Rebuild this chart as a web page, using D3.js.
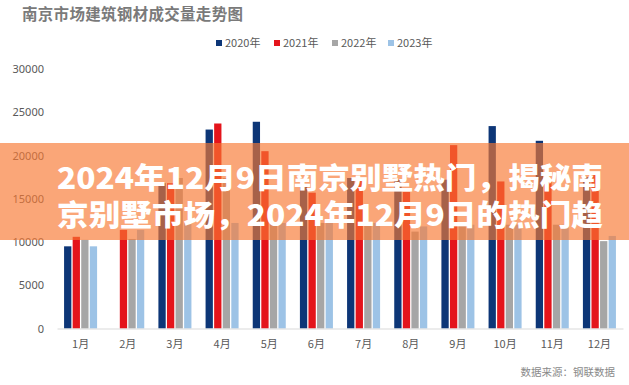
<!DOCTYPE html>
<html>
<head>
<meta charset="utf-8">
<script src="https://cdn.jsdelivr.net/npm/d3@7"></script>
<style>
  body { margin: 0; background: #fff; }
  svg { display: block; font-family: "Noto Sans CJK SC", "Noto Sans", sans-serif; }
</style>
</head>
<body>
<div id="chart"></div>
<script>
var months = ["1月","2月","3月","4月","5月","6月","7月","8月","9月","10月","11月","12月"];
var seriesNames = ["2020年","2021年","2022年","2023年"];
var seriesColors = ["#0D3677","#E4141B","#A6A6A6","#9DC3E6"];
var v2020 = [9500, 0, 16800, 23000, 23900, 16600, 17400, 17200, 17200, 23400, 21700, 17500];
var v2021 = [10600, 11400, 16800, 23700, 20500, 15700, 17200, 15800, 21200, 17000, 17000, 18000];
var v2022 = [10250, 10350, 17400, 17400, 12200, 12200, 12200, 11200, 12000, 12000, 12000, 10100];
var v2023 = [9500, 11400, 12200, 12200, 12200, 12200, 12200, 11800, 12000, 12000, 12000, 10700];
var yTicks = [0, 5000, 10000, 15000, 20000, 25000, 30000];
var titleText = "南京市场建筑钢材成交量走势图";
var sourceText = "数据来源：钢联数据";
var bannerLines = ["2024年12月9日南京别墅热门，揭秘南", "京别墅市场，2024年12月9日的热门趋"];

var allValues = [v2020, v2021, v2022, v2023];
var width = 629, height = 385;

var svg = d3.select("#chart").append("svg")
    .attr("width", width).attr("height", height);

// title
svg.append("text")
    .attr("x", 22).attr("y", 20)
    .attr("fill", "#7a7a7a")
    .attr("font-size", 15.5)
    .attr("font-weight", "bold")
    .attr("textLength", 221)
    .text(titleText);

// legend
var legendX = [216, 274, 332, 388];
var legend = svg.append("g").selectAll("g")
    .data(seriesNames)
    .enter().append("g")
    .attr("transform", function(d, i) { return "translate(" + legendX[i] + ",43)"; });
legend.append("rect")
    .attr("x", 0).attr("y", -3).attr("width", 6).attr("height", 6)
    .attr("fill", function(d, i) { return seriesColors[i]; });
legend.append("text")
    .attr("x", 9).attr("y", 4)
    .attr("font-size", 11)
    .attr("fill", "#595959")
    .text(function(d) { return d; });

var x0 = d3.scaleBand().domain(months).range([57, 623]).paddingInner(0.3).paddingOuter(0.15);
var x1 = d3.scaleBand().domain(seriesNames).range([0, x0.bandwidth()]).paddingInner(0.15);
var y = d3.scaleLinear().domain([0, 30000]).range([328.5, 69]);

// y axis
var yAxis = svg.append("g")
    .attr("transform", "translate(44,0)")
    .call(d3.axisLeft(y).tickValues(yTicks).tickSize(0).tickPadding(0).tickFormat(d3.format("d")));
yAxis.select(".domain").remove();
yAxis.selectAll("text")
    .attr("font-size", 11)
    .attr("fill", "#595959")
    .attr("font-family", "\"Noto Sans\", sans-serif");

// bars
var groups = svg.append("g").selectAll("g")
    .data(months)
    .enter().append("g")
    .attr("transform", function(d) { return "translate(" + x0(d) + ",0)"; });
groups.selectAll("rect")
    .data(function(d, mi) {
        return seriesNames.map(function(s, si) { return { s: s, si: si, v: allValues[si][mi] }; });
    })
    .enter().append("rect")
    .attr("x", function(d) { return x1(d.s); })
    .attr("width", x1.bandwidth())
    .attr("y", function(d) { return y(d.v); })
    .attr("height", function(d) { return y(0) - y(d.v); })
    .attr("fill", function(d) { return seriesColors[d.si]; });

// x axis
var xAxis = svg.append("g")
    .attr("transform", "translate(0," + y(0) + ")")
    .call(d3.axisBottom(x0).tickSize(0).tickPadding(12));
xAxis.select(".domain").attr("stroke", "#D9D9D9").attr("stroke-width", 1.2);
xAxis.selectAll("text")
    .attr("font-size", 11)
    .attr("fill", "#595959")
    .attr("font-family", "\"Noto Sans CJK SC\", sans-serif");

// source
svg.append("text")
    .attr("x", 615).attr("y", 376)
    .attr("text-anchor", "end")
    .attr("font-size", 10.5)
    .attr("fill", "#8a8a8a")
    .text(sourceText);

// orange banner over the chart
svg.append("rect")
    .attr("x", 0).attr("y", 143)
    .attr("width", width).attr("height", 97)
    .attr("fill", "rgb(247,120,50)")
    .attr("fill-opacity", 0.66);

svg.append("g").selectAll("text")
    .data(bannerLines)
    .enter().append("text")
    .attr("x", 57)
    .attr("y", function(d, i) { return 189 + i * 37; })
    .attr("font-size", 29)
    .attr("font-weight", 900)
    .attr("fill", "#fff")
    .attr("textLength", 546)
    .attr("lengthAdjust", "spacingAndGlyphs")
    .text(function(d) { return d; });
</script>
</body>
</html>
